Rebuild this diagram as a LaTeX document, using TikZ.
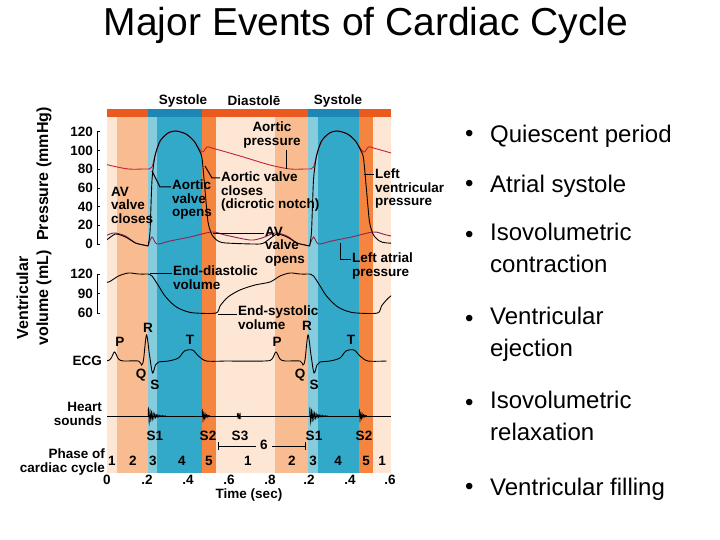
\documentclass[tikz,border=0pt]{standalone}
\usepackage{fontspec}
\setmainfont{Liberation Sans}
\begin{document}
\begin{tikzpicture}[x=1pt,y=-1pt,
  lab/.style={font=\bfseries\fontsize{13.5}{13.5}\selectfont,inner sep=0pt,align=left},
  rlab/.style={lab,align=right},
  bul/.style={font=\fontsize{24}{32}\selectfont,anchor=west,inner sep=0pt,align=left},
  crv/.style={line width=0.9pt},
  lead/.style={line width=1pt}]
\definecolor{lpe}{HTML}{FDE6D4}\definecolor{pe}{HTML}{F9BC90}
\definecolor{lbl}{HTML}{86CCDC}\definecolor{bl}{HTML}{33A9C9}
\definecolor{og}{HTML}{F5843F}\definecolor{tor}{HTML}{EA5A1E}
\definecolor{tbl}{HTML}{1E86B5}\definecolor{aor}{HTML}{C8203A}
\definecolor{atr}{HTML}{8E2450}
\useasboundingbox (0,0) rectangle (720,540);
\fill[white] (0,0) rectangle (720,540);
\node[font=\fontsize{39}{40}\selectfont] (title) at (366,25) {Major Events of Cardiac Cycle};
% bands
\fill[lpe] (107,117) rectangle (391,473);
\fill[pe] (117,117) rectangle (148,473);
\fill[lbl] (148,117) rectangle (157,473);
\fill[bl] (157,117) rectangle (202,473);
\fill[og] (202,117) rectangle (216,473);
\fill[pe] (275,117) rectangle (308,473);
\fill[lbl] (308,117) rectangle (318,473);
\fill[bl] (318,117) rectangle (359,473);
\fill[og] (359,117) rectangle (373,473);
\fill[tor] (107,109) rectangle (391,117);
\fill[tbl] (148,109) rectangle (202,117);
\fill[tbl] (308,109) rectangle (359,117);
\node[lab] (sys1) at (183,101) {Systole};
\node[lab] (dia) at (254,101) {Diastolē};
\node[lab] (sys2) at (338,101) {Systole};
% axes
\draw[line width=0.6pt] (97,132) -- (97,244);
\foreach \v in {0,20,...,120}{\draw[line width=0.6pt] (97,{244-0.936*\v}) -- (100,{244-0.936*\v});
  \node[rlab,anchor=east] at (93,{244-0.936*\v}) {\v};}
\draw[line width=0.6pt] (97,274) -- (97,313);
\foreach \v/\yy in {120/274,90/293.5,60/313}{\draw[line width=0.6pt] (97,\yy) -- (100,\yy);
  \node[rlab,anchor=east] at (93,\yy) {\v};}
\node[lab,rotate=90,font=\bfseries\fontsize{16}{16}\selectfont] (pax) at (44,174) {Pressure (mmHg)};
\node[lab,rotate=90,align=center,font=\bfseries\fontsize{16}{20}\selectfont] (vax) at (34,298) {Ventricular\\volume (mL)};
% curves
\begin{scope}
\clip (107,120) rectangle (391,470);
\foreach \s in {-161.5,0,161.5}{
\begin{scope}[xshift=\s]
\draw[crv,aor] plot[smooth,tension=0.5] coordinates {(148,169)(152,167)(156,152)(161,140)(168,133)(176,131)(186,134)(194,141)(200,150)(203,152)(207,147)(212,148)(240,156)(270,165)(290,169)(305,169)(309.5,169)};
\draw[crv,atr] plot[smooth,tension=0.5] coordinates {(148,246)(152,237)(157,244)(170,241)(190,237)(212,232)(225,235)(250,240)(262,238)(275,233)(287,236)(297,243)(305,245)(309.5,246)};
\draw[crv] plot[smooth,tension=0.4] coordinates {(148,246)(150,232)(152,180)(155,156)(160,141)(168,133)(176,131)(186,134)(194,141)(199,150)(202,158)(205,190)(208,222)(212,235)(218,241)(226,243)(260,244)(268,240)(277,234)(287,237)(297,243)(305,245)(309.5,246)};
\draw[crv] plot[smooth,tension=0.5] coordinates {(148,274)(152,276)(158,285)(165,296)(175,306)(185,311)(195,313)(216,313)(220,306)(228,297)(240,290)(255,285)(270,282)(280,276)(290,273)(300,274)(309.5,274)};
\end{scope}}
\foreach \s in {-161.5,0}{
\begin{scope}[xshift=\s]
\draw[crv] plot[smooth,tension=0.5] coordinates {(225,361)(265,361)(272,359)(276,352)(280,359)(285,361)(300,361)(303,365)(305,360)(308,335)(311,355)(314,373)(317,365)(320,362)(330,361)(340,358)(346,351)(354,350)(360,356)(368,361)(386.5,361)};
\end{scope}}
\end{scope}
\draw[line width=0.7pt] (107,416) -- (391,416);
\foreach \b in {148,309.5}{
\draw[line width=0.5pt] plot[domain=0:18,samples=90] ({\b+\x},{416-10*exp(-\x/5)*sin(\x*230)});}
\foreach \b in {202,359}{
\draw[line width=0.5pt] plot[domain=0:8,samples=50] ({\b+\x},{416-8*exp(-\x/3)*sin(\x*260)});}
\draw[line width=0.5pt] plot[domain=0:4,samples=30] ({237+\x},{416-3*sin(\x*260)});
% labels
\node[lab,align=center] (aop) at (272,135) {Aortic\\pressure};
\draw[lead] (286,150) -- (286,169);
\node[lab,anchor=north west] (avc) at (221,172) {Aortic valve\\closes\\(dicrotic notch)};
\draw[lead] (220,178) -- (212,178) -- (205,166);
\node[lab,anchor=north west] (lvp) at (375,169) {Left\\ventricular\\pressure};
\draw[lead] (374,175) -- (364,175);
\node[lab,anchor=north west] (avcl) at (111,187) {AV\\valve\\closes};
\node[lab,anchor=north west] (aoo) at (172,180) {Aortic\\valve\\opens};
\draw[lead] (171,187) -- (160,187) -- (152,171);
\node[lab,anchor=north west] (avo) at (265,227) {AV\\valve\\opens};
\draw[lead] (264,233) -- (213,233);
\node[lab,anchor=north west] (lap) at (352,253) {Left atrial\\pressure};
\draw[lead] (351,259) -- (340,259) -- (340,243);
\node[lab,anchor=north west] (edv) at (173,266) {End-diastolic\\volume};
\draw[lead] (172,273) -- (150,273);
\node[lab,anchor=north west] (esv) at (238,306) {End-systolic\\volume};
\draw[lead] (237,314) -- (218,314);
\foreach \n/\px/\py in {P/120/342,R/148/328,T/190/340,Q/141/375,S/155/385,P/277/342,R/307/326,T/351/340,Q/300/375,S/314/385}
  \node[lab] at (\px,\py) {\n};
\node[rlab,anchor=east] (ecg) at (102,361) {ECG};
\node[rlab,anchor=east] (hs) at (102,414) {Heart\\sounds};
\foreach \n/\px in {S1/155,S2/208,S3/240,S1/314,S2/364}
  \node[lab] at (\px,436) {\n};
\draw[line width=1pt] (218,442) -- (218,450) (218,446) -- (256,446) (272,446) -- (305,446) (305,442) -- (305,450);
\node[lab] (six) at (264,445) {6};
\node[rlab,anchor=east] (ph) at (105,462) {Phase of\\cardiac cycle};
\foreach \n/\px in {1/112,2/133,3/153,4/182,5/209,1/248,2/292,3/313,4/338,5/366,1/382}
  \node[lab] at (\px,461) {\n};
\foreach \n/\px in {0/107,.2/147,.4/188,.6/229,.8/270,.2/309,.4/350,.6/390}
  \node[lab] at (\px,480) {\n};
\node[lab] (tl) at (249,495) {Time (sec)};
% bullets
\foreach \yy in {136,186,237,321,405,489}
  \node[bul] at (465,\yy) {•};
\node[bul] (b1) at (490,136) {Quiescent period};
\node[bul] (b2) at (490,186) {Atrial systole};
\node[bul,anchor=north west] (b3) at (490,223) {Isovolumetric\\contraction};
\node[bul,anchor=north west] (b4) at (490,307) {Ventricular\\ejection};
\node[bul,anchor=north west] (b5) at (490,391) {Isovolumetric\\relaxation};
\node[bul] (b6) at (490,489) {Ventricular filling};
\end{tikzpicture}
\end{document}
